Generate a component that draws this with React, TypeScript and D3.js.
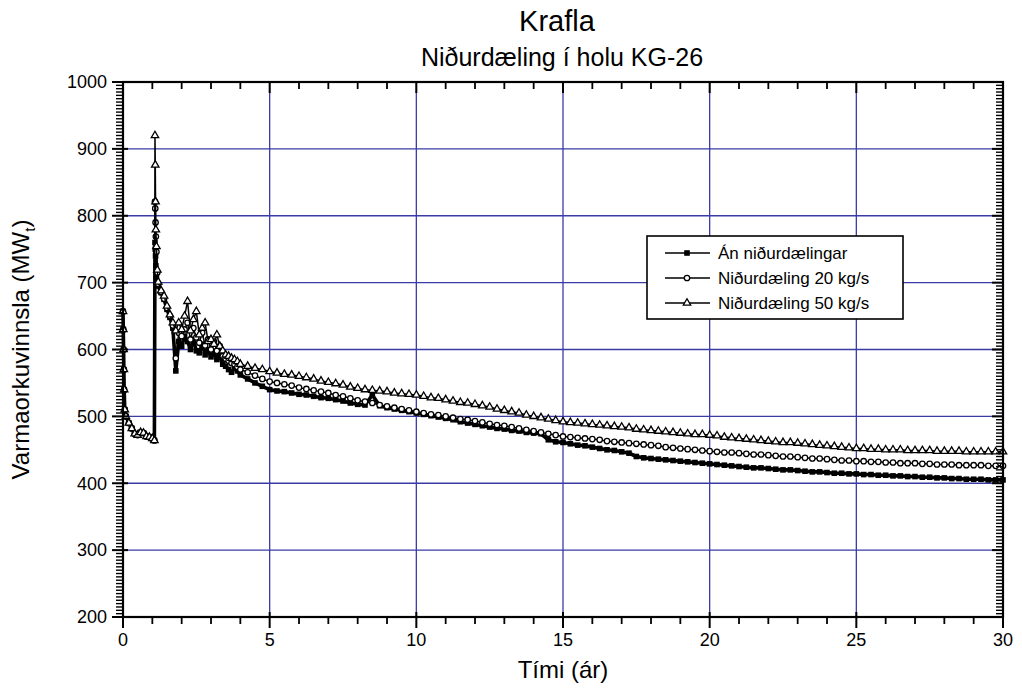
import React from "react";
import * as d3 from "d3";

// time axis (years) shared by all three runs
const rampYears = [0, 0.01, 0.02, 0.03, 0.04, 0.06, 0.1, 0.2, 0.3, 0.4, 0.5, 0.6, 0.7, 0.8, 0.9, 1.0, 1.07];
const peakYears = [1.09, 1.1, 1.11, 1.12, 1.14, 1.17, 1.2];
const midYears = [
  1.3, 1.4, 1.5, 1.6, 1.7, 1.8, 1.9, 2.0, 2.1, 2.2, 2.3, 2.4, 2.5, 2.6, 2.7, 2.8, 2.9, 3.0,
  3.1, 3.2, 3.3, 3.4, 3.5, 3.6, 3.7, 3.8, 3.9, 4.0,
];
const lateYears = [
  4.25, 4.5, 4.75, 5, 5.25, 5.5, 5.75, 6, 6.25, 6.5, 6.75, 7, 7.25, 7.5, 7.75, 8,
  8.25, 8.5, 8.75, 9, 9.25, 9.5, 9.75, 10, 10.25, 10.5, 10.75, 11, 11.25, 11.5, 11.75, 12,
  12.25, 12.5, 12.75, 13, 13.25, 13.5, 13.75, 14, 14.25, 14.5, 14.75, 15, 15.25, 15.5, 15.75, 16,
  16.25, 16.5, 16.75, 17, 17.25, 17.5, 17.75, 18, 18.25, 18.5, 18.75, 19, 19.25, 19.5, 19.75, 20,
  20.25, 20.5, 20.75, 21, 21.25, 21.5, 21.75, 22, 22.25, 22.5, 22.75, 23, 23.25, 23.5, 23.75, 24,
  24.25, 24.5, 24.75, 25, 25.25, 25.5, 25.75, 26, 26.25, 26.5, 26.75, 27, 27.25, 27.5, 27.75, 28,
  28.25, 28.5, 28.75, 29, 29.25, 29.5, 29.75, 30,
];
const years = [...rampYears, ...peakYears, ...midYears, ...lateYears];

// first year is the same for every run
const rampValues = [657, 630, 600, 570, 540, 510, 500, 490, 482, 474, 472, 476, 475, 470, 469, 467, 464];

const noInjection = [
  ...rampValues,
  760, 750, 740, 725, 710, 700, 695,
  685, 675, 660, 648, 632, 568, 612, 605, 620, 612, 600, 615, 598, 595, 608, 592, 600, 589,
  595, 585, 590, 578, 575, 570, 566, 572, 568, 562,
  556, 550, 545, 540, 538, 537, 535, 533, 532, 530, 528, 527, 525, 523, 520, 518,
  517, 532, 516, 513, 511, 509, 507, 505, 503, 501, 499, 497, 495, 492, 490, 488,
  486, 484, 482, 481, 479, 478, 476, 475, 474, 465, 462, 461, 459, 457, 456, 454,
  452, 450, 449, 447, 445, 440, 438, 437, 436, 435, 434, 433, 432, 431, 430, 429,
  428, 427, 426, 425, 424, 423, 423, 422, 421, 420, 420, 419, 418, 417, 417, 416,
  415, 415, 414, 414, 413, 413, 412, 412, 411, 411, 410, 410, 409, 409, 408, 408,
  407, 407, 406, 406, 406, 405, 405, 405,
];

const injection20 = [
  ...rampValues,
  821, 811, 790, 769, 746, 715, 698,
  686, 676, 662, 650, 636, 587, 625, 620, 630, 640, 615, 632, 618, 610, 625, 606, 615, 600,
  612, 598, 605, 590, 586, 583, 580, 578, 574, 570,
  566, 561, 556, 552, 550, 548, 546, 543, 541, 539, 537, 535, 532, 530, 527, 524,
  522, 520, 517, 515, 513, 511, 509, 507, 505, 503, 502, 500, 498, 496, 495, 493,
  491, 489, 487, 486, 484, 482, 480, 478, 476, 474, 472, 470, 469, 468, 467, 466,
  465, 463, 462, 461, 460, 459, 458, 457, 456, 454, 453, 452, 451, 450, 449, 448,
  447, 446, 446, 445, 444, 443, 443, 442, 441, 440, 440, 439, 438, 437, 437, 436,
  435, 434, 434, 433, 433, 432, 432, 431, 431, 430, 430, 430, 429, 429, 428, 428,
  428, 427, 427, 427, 427, 426, 426, 426,
];

const injection50 = [
  ...rampValues,
  920, 876, 821, 779, 754, 719, 701,
  688, 680, 665, 652, 640, 628, 640, 630, 650, 672, 628, 645, 657, 622, 632, 640, 612, 615,
  608, 622, 605, 598, 592, 590, 587, 585, 582, 578,
  575, 572, 570, 567, 565, 563, 562, 560, 558, 556, 553, 551, 549, 547, 544, 542,
  540, 539, 538, 537, 535, 534, 533, 532, 530, 528, 527, 525, 523, 521, 520, 518,
  516, 514, 511, 509, 507, 505, 502, 500, 498, 496, 494, 492, 491, 490, 489, 488,
  487, 486, 485, 484, 483, 481, 480, 479, 478, 477, 476, 475, 474, 473, 473, 472,
  471, 469, 468, 467, 466, 465, 464, 463, 462, 461, 461, 460, 459, 458, 457, 456,
  455, 454, 453, 452, 452, 451, 451, 450, 450, 450, 449, 449, 449, 449, 448, 448,
  448, 448, 447, 447, 447, 447, 447, 447,
];

const xTicks = [0, 5, 10, 15, 20, 25, 30];
const yTicks = [200, 300, 400, 500, 600, 700, 800, 900, 1000];
const legendLabels = ["Án niðurdælingar", "Niðurdæling 20 kg/s", "Niðurdæling 50 kg/s"];

const W = 1022;
const H = 690;
const margin = { top: 82, right: 19, bottom: 73, left: 123 };
const font = "'Liberation Sans', Arial, Helvetica, sans-serif";
const gridColor = "#3b3ba6";

function Marker({ kind, x, y }: { kind: number; x: number; y: number }) {
  if (kind === 0) {
    return <rect x={x - 2.8} y={y - 2.8} width={5.6} height={5.6} fill="#000" />;
  }
  if (kind === 1) {
    return <circle cx={x} cy={y} r={2.7} fill="#fff" stroke="#000" strokeWidth={1.3} />;
  }
  return (
    <path
      d={d3.symbol(d3.symbolTriangle, 24)() as string}
      transform={`translate(${x},${y})`}
      fill="#fff"
      stroke="#000"
      strokeWidth={1.3}
    />
  );
}

export default function App() {
  const x = d3.scaleLinear().domain([0, 30]).range([margin.left, W - margin.right]);
  const y = d3.scaleLinear().domain([200, 1000]).range([H - margin.bottom, margin.top]);
  const [x0, x1] = x.range();
  const [y0, y1] = y.range();

  const series = [noInjection, injection20, injection50];
  const line = d3
    .line<number>()
    .x((_, i) => x(years[i]))
    .y((d) => y(d));

  const xMinor = d3.range(0, 31, 1).filter((d) => d % 5 !== 0);
  const yMinor = d3.range(200, 1001, 5).filter((d) => d % 100 !== 0);

  return (
    <svg
      width={W}
      height={H}
      style={{ position: "absolute", left: 0, top: 0, background: "#fff" }}
      fontFamily={font}
    >
      <rect width={W} height={H} fill="#fff" />

      {/* grid */}
      {xTicks.slice(1, -1).map((t) => (
        <line key={"gx" + t} x1={x(t)} x2={x(t)} y1={y1} y2={y0} stroke={gridColor} strokeWidth={1.3} />
      ))}
      {yTicks.slice(1, -1).map((t) => (
        <line key={"gy" + t} x1={x0} x2={x1} y1={y(t)} y2={y(t)} stroke={gridColor} strokeWidth={1.3} />
      ))}

      {/* series, no injection first so markers of the others sit on top */}
      {series.map((vals, k) => (
        <g key={"s" + k}>
          <path
            d={line(vals) as string}
            fill="none"
            stroke="#000"
            strokeWidth={k === 0 ? 3.6 : 1.5}
            strokeLinejoin="round"
          />
          {vals.map((v, i) => (
            <Marker key={i} kind={k} x={x(years[i])} y={y(v)} />
          ))}
        </g>
      ))}

      {/* frame and ticks */}
      <rect x={x0} y={y1} width={x1 - x0} height={y0 - y1} fill="none" stroke="#000" strokeWidth={2.2} />
      {xMinor.map((t) => (
        <g key={"xm" + t}>
          <line x1={x(t)} x2={x(t)} y1={y0} y2={y0 + 7} stroke="#000" strokeWidth={1.8} />
          <line x1={x(t)} x2={x(t)} y1={y1} y2={y1 + 7} stroke="#000" strokeWidth={1.8} />
        </g>
      ))}
      {xTicks.map((t) => (
        <g key={"xt" + t}>
          <line x1={x(t)} x2={x(t)} y1={y0 - 5} y2={y0 + 11} stroke="#000" strokeWidth={2} />
          <line x1={x(t)} x2={x(t)} y1={y1} y2={y1 + 11} stroke="#000" strokeWidth={2} />
          <text x={x(t)} y={y0 + 29} textAnchor="middle" fontSize={18}>
            {t}
          </text>
        </g>
      ))}
      {yMinor.map((t) => (
        <g key={"ym" + t}>
          <line x1={x0 - 7} x2={x0} y1={y(t)} y2={y(t)} stroke="#000" strokeWidth={1.4} />
          <line x1={x1 - 7} x2={x1} y1={y(t)} y2={y(t)} stroke="#000" strokeWidth={1.4} />
        </g>
      ))}
      {yTicks.map((t) => (
        <g key={"yt" + t}>
          <line x1={x0 - 11} x2={x0 + 5} y1={y(t)} y2={y(t)} stroke="#000" strokeWidth={2} />
          <line x1={x1 - 11} x2={x1} y1={y(t)} y2={y(t)} stroke="#000" strokeWidth={2} />
          <text x={x0 - 16} y={y(t)} dy="0.35em" textAnchor="end" fontSize={18}>
            {t}
          </text>
        </g>
      ))}

      {/* titles */}
      <text x={557} y={31} textAnchor="middle" fontSize={29}>
        Krafla
      </text>
      <text x={562} y={66} textAnchor="middle" fontSize={25}>
        Niðurdæling í holu KG-26
      </text>
      <text x={563} y={678} textAnchor="middle" fontSize={24}>
        Tími (ár)
      </text>
      <text transform={`translate(29,${(y0 + y1) / 2}) rotate(-90)`} textAnchor="middle" fontSize={24}>
        Varmaorkuvinnsla (MW
        <tspan fontSize={15} dy={6}>
          t
        </tspan>
        <tspan dy={-6}>)</tspan>
      </text>

      {/* legend */}
      <g>
        <rect x={647} y={236} width={256} height={83} fill="#fff" stroke="#000" strokeWidth={1.6} />
        {legendLabels.map((label, k) => {
          const ly = 253 + k * 25;
          return (
            <g key={label}>
              <line x1={665} x2={710} y1={ly} y2={ly} stroke="#000" strokeWidth={1.5} />
              <Marker kind={k} x={687} y={ly} />
              <text x={718} y={ly} dy="0.35em" fontSize={17}>
                {label}
              </text>
            </g>
          );
        })}
      </g>
    </svg>
  );
}
